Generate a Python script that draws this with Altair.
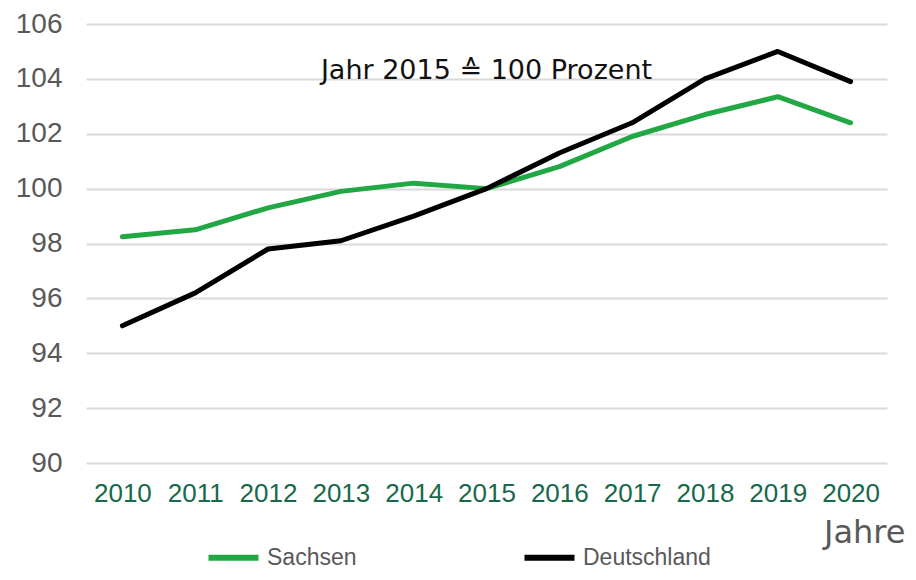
import altair as alt
import pandas as pd

years = ["2010", "2011", "2012", "2013", "2014", "2015", "2016", "2017", "2018", "2019", "2020"]
sachsen = [98.25, 98.5, 99.3, 99.9, 100.2, 100.0, 100.8, 101.9, 102.7, 103.35, 102.4]
deutschland = [95.0, 96.2, 97.8, 98.1, 99.0, 100.0, 101.3, 102.4, 104.0, 105.0, 103.9]
series_names = ["Sachsen", "Deutschland"]
series_colors = ["#21a744", "#000000"]
y_ticks = [90, 92, 94, 96, 98, 100, 102, 104, 106]
note_text = ["Jahr 2015 \u2259 100 Prozent"]
note_year = ["2015"]
note_value = [104.3]

rows = []
for name, vals in zip(series_names, [sachsen, deutschland]):
    for yr, v in zip(years, vals):
        rows.append({"Jahr": yr, "Wert": v, "Reihe": name})
df = pd.DataFrame(rows)
note_df = pd.DataFrame({"Jahr": note_year, "Wert": note_value, "Text": note_text})

GEO = "DejaVu Sans, sans-serif"
ARIAL = "Liberation Sans, Arial, sans-serif"

x_enc = alt.X(
    "Jahr:O",
    sort=years,
    scale=alt.Scale(type="point", padding=0.5, domain=years),
    axis=alt.Axis(
        title="Jahre",
        labelAngle=0,
        ticks=False,
        domain=False,
        grid=False,
        labelFont=ARIAL,
        labelFontSize=26,
        labelColor="#16694a",
        labelPadding=17,
        titleFont=GEO,
        titleFontSize=32,
        titleFontWeight="normal",
        titleColor="#595959",
        titleX=819,
        titleY=79,
        titleAlign="right",
        titleBaseline="alphabetic",
        titleAnchor="end",
    ),
)
y_enc = alt.Y(
    "Wert:Q",
    scale=alt.Scale(domain=[90, 106], nice=False, zero=False),
    axis=alt.Axis(
        title=None,
        values=y_ticks,
        ticks=False,
        domain=False,
        grid=True,
        gridColor="#d9d9d9",
        gridWidth=2,
        labelFont=ARIAL,
        labelFontSize=28,
        labelColor="#595959",
        labelPadding=24,
    ),
)

lines = alt.Chart(df).mark_line(strokeWidth=5, strokeCap="round", strokeJoin="round").encode(
    x=x_enc,
    y=y_enc,
    color=alt.Color(
        "Reihe:N",
        scale=alt.Scale(domain=series_names, range=series_colors),
        legend=alt.Legend(
            title=None,
            orient="none",
            legendX=132,
            legendY=518,
            direction="horizontal",
            symbolType="M-2,0H2",
            symbolSize=625,
            symbolStrokeWidth=6,
            labelFont=ARIAL,
            labelFontSize=23,
            labelColor="#595959",
            labelOffset=18,
            columnPadding=155,
        ),
    ),
)

note = alt.Chart(note_df).mark_text(
    font=GEO, fontSize=27, color="#111111", align="center", baseline="middle"
).encode(x=alt.X("Jahr:O", sort=years), y="Wert:Q", text="Text:N")

chart = (
    alt.layer(lines, note)
    .properties(
        width=801,
        height=439,
        background="white",
        autosize=alt.AutoSizeParams(type="none"),
        padding={"left": 78, "top": 16, "right": 20, "bottom": 109},
    )
    .configure_view(stroke=None, strokeWidth=0)
)

chart.save("out.html", embed_options={"renderer": "svg", "actions": False})
